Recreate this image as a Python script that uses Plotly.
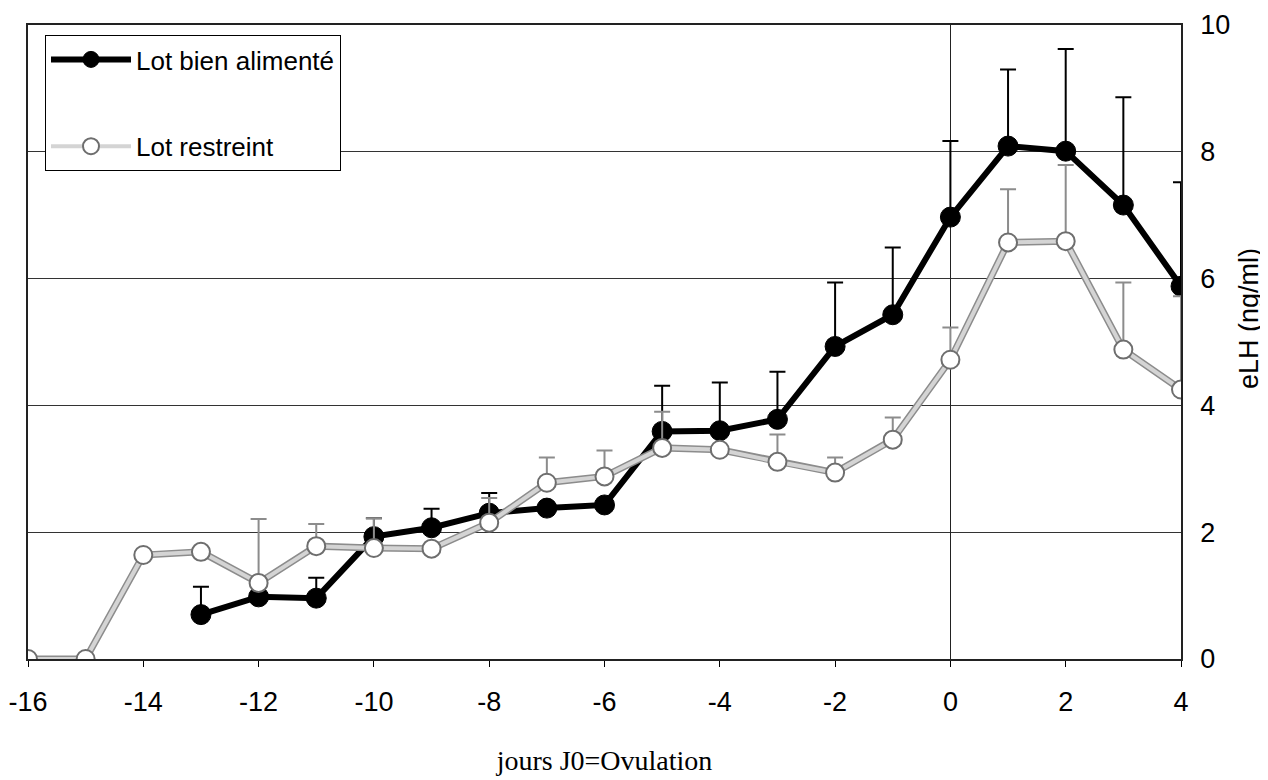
import plotly.graph_objects as go

# Days relative to ovulation
days_bien = [-13, -12, -11, -10, -9, -8, -7, -6, -5, -4, -3, -2, -1, 0, 1, 2, 3, 4]
lh_bien = [0.70, 0.98, 0.96, 1.93, 2.07, 2.30, 2.38, 2.43, 3.59, 3.60, 3.78, 4.93, 5.43, 6.97, 8.09, 8.01, 7.16, 5.88]
err_bien = [0.44, 0.0, 0.32, 0.29, 0.30, 0.32, 0.0, 0.0, 0.72, 0.76, 0.75, 1.01, 1.06, 1.20, 1.21, 1.61, 1.70, 1.64]

days_restr = [-16, -15, -14, -13, -12, -11, -10, -9, -8, -7, -6, -5, -4, -3, -2, -1, 0, 1, 2, 3, 4]
lh_restr = [0.0, 0.0, 1.64, 1.69, 1.20, 1.78, 1.75, 1.74, 2.15, 2.78, 2.88, 3.33, 3.30, 3.11, 2.94, 3.46, 4.72, 6.57, 6.59, 4.88, 4.25]
err_restr = [0.0, 0.0, 0.0, 0.0, 1.01, 0.35, 0.47, 0.0, 0.39, 0.40, 0.41, 0.57, 0.0, 0.43, 0.24, 0.35, 0.51, 0.84, 1.20, 1.06, 1.47]

x_ticks = [-16, -14, -12, -10, -8, -6, -4, -2, 0, 2, 4]
x_tick_labels = ["-16", "-14", "-12", "-10", "-8", "-6", "-4", "-2", "0", "2", "4"]
y_ticks = [0, 2, 4, 6, 8, 10]
y_tick_labels = ["0", "2", "4", "6", "8", "10"]

W, H = 1260, 772
L, T = 20, 17
PLOT_R, PLOT_B = 1173, 651
R, B = W - PLOT_R, H - PLOT_B

fig = go.Figure()

fig.add_trace(go.Scatter(
    x=days_bien, y=lh_bien, mode="lines+markers", name="Lot bien alimenté",
    legendgroup="a",
    line=dict(color="black", width=6),
    marker=dict(color="black", size=20, line=dict(color="black", width=1)),
    error_y=dict(type="data", symmetric=False, array=err_bien,
                 arrayminus=[0] * len(err_bien), color="black", thickness=2, width=8),
))

# gray outline of the hatched line
fig.add_trace(go.Scatter(
    x=days_restr, y=lh_restr, mode="lines", showlegend=False, hoverinfo="skip",
    legendgroup="b",
    line=dict(color="#8c8c8c", width=7),
    error_y=dict(type="data", symmetric=False, array=err_restr,
                 arrayminus=[0] * len(err_restr), color="#8c8c8c", thickness=2, width=8),
))
fig.add_trace(go.Scatter(
    x=days_restr, y=lh_restr, mode="lines+markers", name="Lot restreint",
    legendgroup="b",
    line=dict(color="#d4d4d4", width=4),
    marker=dict(color="white", size=18, line=dict(color="#6e6e6e", width=2)),
))

fig.add_annotation(
    text="eLH (ng/ml)", textangle=-90, xref="paper", yref="paper",
    x=1.0, xshift=1266 - 1181, y=(659 - 319) / 634, showarrow=False,
    font=dict(family="Liberation Sans, Arial", size=27, color="black"),
)

fig.update_layout(
    width=W, height=H,
    margin=dict(l=L, r=R, t=T, b=B, autoexpand=False),
    paper_bgcolor="white", plot_bgcolor="white",
    font=dict(family="Liberation Sans, Arial", size=27, color="black"),
    showlegend=True,
    legend=dict(
        x=(45 - 28) / 1153, y=(659 - 35) / 634, xanchor="left", yanchor="top",
        bgcolor="white", bordercolor="black", borderwidth=1,
        font=dict(family="Liberation Sans, Arial", size=26, color="black"),
        itemwidth=80, tracegroupgap=50, traceorder="grouped",
    ),
    xaxis=dict(
        range=[-16, 4], tickvals=x_ticks, ticktext=x_tick_labels,
        ticks="outside", ticklen=6, tickcolor="black", ticklabelstandoff=12,
        showgrid=False, zeroline=True, zerolinecolor="#222", zerolinewidth=1,
        showline=True, linecolor="#222", linewidth=1.5, mirror=True,
        title=dict(text="jours J0=Ovulation", standoff=34,
                   font=dict(family="Liberation Serif, Times New Roman", size=28)),
        tickfont=dict(size=27),
    ),
    yaxis=dict(
        range=[0, 10], tickvals=y_ticks, ticktext=y_tick_labels, side="right", ticks="",
        ticklabelstandoff=12,
        showgrid=True, gridcolor="#333", gridwidth=1, zeroline=False,
        showline=True, linecolor="#222", linewidth=1.5, mirror=True,
        tickfont=dict(size=27),
    ),
)

fig.write_html("out.html")
